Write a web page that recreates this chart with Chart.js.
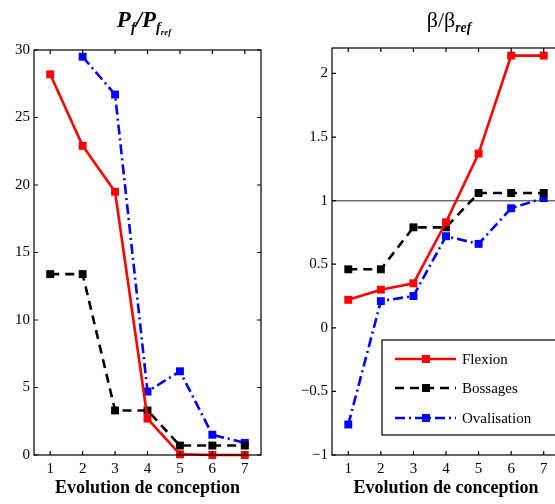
<!DOCTYPE html>
<html>
<head>
<meta charset="utf-8">
<script src="https://cdn.jsdelivr.net/npm/chart.js@4.4.1/dist/chart.umd.min.js"></script>
<style>
  html, body { margin:0; padding:0; background:#fff; }
  body { width:555px; height:504px; overflow:hidden; position:relative; font-family:"Liberation Serif", serif; }
  .box { position:absolute; top:0; height:504px; }
  .ttl { position:absolute; text-align:center; color:#000; white-space:nowrap; line-height:1; }
  .ttl sub { font-size:62%; vertical-align:-0.35em; }
</style>
</head>
<body>
<div class="box" style="left:0;width:280px"><canvas id="pfChart" width="280" height="504"></canvas></div>
<div class="box" style="left:280px;width:300px"><canvas id="betaChart" width="300" height="504"></canvas></div>
<div class="ttl" style="left:84px;width:120px;top:8px;font-size:23px;font-weight:bold;font-style:italic">P<sub>f</sub>/P<sub>f<sub>ref</sub></sub></div>
<div class="ttl" style="left:389px;width:120px;top:9px;font-size:22px">β/β<sub style="font-weight:bold;font-style:italic">ref</sub></div>
<script>
const steps = ['1','2','3','4','5','6','7'];

// P_f / P_f_ref
const pfFlexion = [28.2, 22.9, 19.5, 2.7, 0.05, 0.0, 0.0];
const pfBossages = [13.4, 13.4, 3.3, 3.3, 0.7, 0.7, 0.7];
const pfOvalisation = [null, 29.5, 26.7, 4.7, 6.2, 1.5, 0.9];

// beta / beta_ref
const betaFlexion = [0.22, 0.30, 0.35, 0.83, 1.37, 2.14, 2.14];
const betaBossages = [0.46, 0.46, 0.79, 0.79, 1.06, 1.06, 1.06];
const betaOvalisation = [-0.76, 0.21, 0.25, 0.72, 0.66, 0.94, 1.02];
const betaRef = 1;

const seriesNames = ['Flexion', 'Bossages', 'Ovalisation'];

const FONT = "'Liberation Serif', 'DejaVu Serif', serif";

function dataset(label, data, color, dash){
  return {
    label, data,
    borderColor: color, backgroundColor: color,
    borderWidth: 2.6, borderDash: dash,
    pointStyle: 'rect', pointRadius: 5.6, pointBorderWidth: 0,
    pointBackgroundColor: color,
    tension: 0, spanGaps: false, clip: false
  };
}

function makeSets(a, b, c){
  return [
    dataset(seriesNames[0], a, '#ff0000', []),
    dataset(seriesNames[1], b, '#000000', [9, 6]),
    dataset(seriesNames[2], c, '#0000ff', [10, 4, 2, 4])
  ];
}

// MATLAB style box with inward ticks on all sides
const boxPlugin = {
  id: 'boxTicks',
  afterDraw(chart){
    const {ctx, chartArea:a, scales} = chart;
    ctx.save();
    ctx.strokeStyle = '#000';
    ctx.lineWidth = 1.2;
    ctx.setLineDash([]);
    ctx.strokeRect(a.left, a.top, a.right - a.left, a.bottom - a.top);
    const L = 4;
    ctx.beginPath();
    scales.x.ticks.forEach((t, i) => {
      const px = scales.x.getPixelForTick(i);
      ctx.moveTo(px, a.bottom); ctx.lineTo(px, a.bottom - L);
      ctx.moveTo(px, a.top); ctx.lineTo(px, a.top + L);
    });
    scales.y.ticks.forEach(t => {
      const py = scales.y.getPixelForValue(t.value);
      ctx.moveTo(a.left, py); ctx.lineTo(a.left + L, py);
      ctx.moveTo(a.right, py); ctx.lineTo(a.right - L, py);
    });
    ctx.stroke();
    ctx.restore();
  }
};

const refLinePlugin = {
  id: 'refLine',
  beforeDatasetsDraw(chart){
    const {ctx, chartArea:a, scales} = chart;
    const py = scales.y.getPixelForValue(betaRef);
    ctx.save();
    ctx.strokeStyle = '#6e6e6e';
    ctx.lineWidth = 1.5;
    ctx.beginPath();
    ctx.moveTo(a.left, py); ctx.lineTo(a.right, py);
    ctx.stroke();
    ctx.restore();
  }
};

const legendPlugin = {
  id: 'boxLegend',
  afterDraw(chart){
    const {ctx} = chart;
    const x0 = 102, y0 = 340, y1 = 435;
    ctx.save();
    ctx.fillStyle = '#fff';
    ctx.fillRect(x0, y0, 200, y1 - y0);
    ctx.strokeStyle = '#000';
    ctx.lineWidth = 1.2;
    ctx.setLineDash([]);
    ctx.strokeRect(x0, y0, 200, y1 - y0);
    const rows = [359, 388, 418];
    chart.data.datasets.forEach((ds, i) => {
      const y = rows[i];
      ctx.strokeStyle = ds.borderColor;
      ctx.lineWidth = ds.borderWidth;
      ctx.setLineDash(ds.borderDash);
      ctx.beginPath();
      ctx.moveTo(115, y); ctx.lineTo(176, y);
      ctx.stroke();
      ctx.setLineDash([]);
      ctx.fillStyle = ds.borderColor;
      ctx.fillRect(146 - 4, y - 4, 8, 8);
      ctx.fillStyle = '#000';
      ctx.font = "15px " + FONT;
      ctx.textBaseline = 'middle';
      ctx.fillText(ds.label, 182, y + 1);
    });
    ctx.restore();
  }
};

function options(yMin, yMax, yStep, yWidth, pad, fmt){
  return {
    responsive: false,
    animation: false,
    layout: { padding: pad },
    plugins: { legend: { display: false }, tooltip: { enabled: false } },
    scales: {
      x: {
        type: 'category', offset: true,
        grid: { display: false, drawTicks: false },
        border: { display: false },
        ticks: { color: '#000', font: { family: FONT, size: 15 }, padding: 5 },
        title: { display: true, text: 'Evolution de conception', color: '#000',
                 font: { family: FONT, size: 18, weight: 'bold' }, padding: { top: 0, bottom: 5 } },
        afterFit(s){ s.height = 49; }
      },
      y: {
        min: yMin, max: yMax,
        grid: { display: false, drawTicks: false },
        border: { display: false },
        ticks: { stepSize: yStep, includeBounds: false, color: '#000',
                 font: { family: FONT, size: 15 }, padding: 4, callback: fmt },
        afterFit(s){ s.width = yWidth; }
      }
    }
  };
}

new Chart(document.getElementById('pfChart'), {
  type: 'line',
  data: { labels: steps, datasets: makeSets(pfFlexion, pfBossages, pfOvalisation) },
  options: options(0, 30, 5, 34, { top: 50, right: 19, left: 0, bottom: 0 }, v => String(v)),
  plugins: [boxPlugin]
});

new Chart(document.getElementById('betaChart'), {
  type: 'line',
  data: { labels: steps, datasets: makeSets(betaFlexion, betaBossages, betaOvalisation) },
  options: options(-1, 2.2, 0.5, 52, { top: 48, right: 20, left: 0, bottom: 0 },
    v => v < 0 ? '\u2212' + Math.abs(v) : String(v)),
  plugins: [refLinePlugin, boxPlugin, legendPlugin]
});
</script>
</body>
</html>
